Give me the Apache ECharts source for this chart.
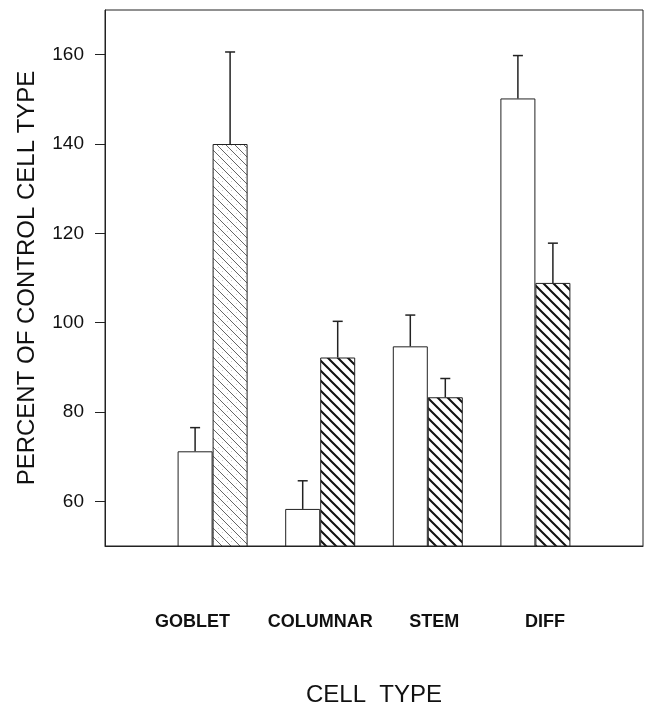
<!DOCTYPE html>
<html>
<head>
<meta charset="utf-8">
<title>Percent of control cell type</title>
<script src="https://cdn.jsdelivr.net/npm/echarts@6/dist/echarts.min.js"></script>
<style>
  html, body { margin: 0; padding: 0; background: #fff; }
  #chart { width: 646px; height: 708px; }
</style>
</head>
<body>
<div id="chart"></div>
<script>
// categories (empty slots at both ends give the wide margins of the original)
const categories = ['', 'GOBLET', 'COLUMNAR', 'STEM', 'DIFF', ''];
// open (control-like) bars and their upper error
const openValues = [null, 71.2, 58.3, 94.7, 150.2, null];
const openErrors = [null, 5.3, 6.3, 7.0, 9.6, null];
// hatched bars and their upper error
const hatchValues = [null, 140, 92.2, 83.3, 108.9, null];
const hatchErrors = [null, 20.6, 8.1, 4.2, 8.9, null];
const yTicks = [60, 80, 100, 120, 140, 160];

// diagonal "\" hatch tile
function hatch(p, lineColor, lineWidth, speckle) {
  const c = document.createElement('canvas');
  c.width = p; c.height = p;
  const ctx = c.getContext('2d');
  ctx.fillStyle = '#fff';
  ctx.fillRect(0, 0, p, p);
  ctx.strokeStyle = lineColor;
  ctx.lineWidth = lineWidth;
  ctx.beginPath();
  [-p, 0, p].forEach(o => { ctx.moveTo(o - 1, -1); ctx.lineTo(o + p + 1, p + 1); });
  ctx.stroke();
  if (speckle) {
    ctx.fillStyle = '#cfcfcf';
    ctx.fillRect(6, 1, 1, 1);
    ctx.fillRect(2, 6, 1, 1);
  }
  return c;
}
const boldHatch = { image: hatch(10, '#111', 2, false), repeat: 'repeat' };
const fineHatch = { image: hatch(9, '#666', 1, true), repeat: 'repeat' };

const barW = 35;
// nudges to match where the original printed each category name
const labelPad = [[0, 0, 0, 0], [0, 40, 0, 0], [0, 0, 0, 0], [0, 0, 0, 13], [0, 0, 0, 19], [0, 0, 0, 0]];

function errorSeries(values, errors, side) {
  const data = [];
  values.forEach((v, i) => { if (v != null) data.push([i, v, v + errors[i]]); });
  return {
    type: 'custom',
    data: data,
    z: 5,
    silent: true,
    renderItem: function (params, api) {
      const base = api.coord([api.value(0), api.value(1)]);
      const top = api.coord([api.value(0), api.value(2)]);
      const x = base[0] + side * barW / 2;
      const st = { stroke: '#222', lineWidth: 1.5 };
      return {
        type: 'group',
        children: [
          { type: 'line', shape: { x1: x, y1: base[1], x2: x, y2: top[1] }, style: st },
          { type: 'line', shape: { x1: x - 5, y1: top[1], x2: x + 5, y2: top[1] }, style: st }
        ]
      };
    }
  };
}

const chart = echarts.init(document.getElementById('chart'));
chart.setOption({
  animation: false,
  backgroundColor: '#fff',
  textStyle: { fontFamily: 'Liberation Sans', color: '#111' },
  grid: {
    left: 105, right: 3, top: 10, bottom: 162,
    outerBoundsMode: 'none',
    show: true, borderColor: '#222', borderWidth: 1
  },
  xAxis: {
    type: 'category',
    boundaryGap: false,
    data: categories.map((c, i) => ({ value: c, textStyle: { padding: labelPad[i] } })),
    axisLine: { lineStyle: { color: '#222', width: 1 } },
    axisTick: { show: false },
    axisLabel: { interval: 0, margin: 67, fontSize: 18, fontWeight: 'bold', color: '#111' },
    splitLine: { show: false },
    name: 'CELL  TYPE',
    nameLocation: 'middle',
    nameGap: 137,
    nameTextStyle: { fontSize: 24, color: '#111' }
  },
  yAxis: {
    type: 'value',
    min: 50,
    max: 170,
    axisLine: { show: true, lineStyle: { color: '#222', width: 1 } },
    axisTick: { show: true, length: 10, customValues: yTicks, lineStyle: { color: '#222' } },
    axisLabel: { customValues: yTicks, margin: 21, fontSize: 19, color: '#111' },
    splitLine: { show: false },
    name: 'PERCENT OF CONTROL CELL TYPE',
    nameLocation: 'middle',
    nameGap: 66,
    nameTextStyle: { fontSize: 24, color: '#111' }
  },
  series: [
    {
      type: 'bar',
      data: openValues,
      barWidth: barW,
      barGap: '0%',
      itemStyle: { color: '#fff', borderColor: '#222', borderWidth: 1 }
    },
    {
      type: 'bar',
      data: hatchValues.map((v, i) => i === 1 ? { value: v, itemStyle: { color: fineHatch } } : v),
      barWidth: barW,
      barGap: '0%',
      itemStyle: { color: boldHatch, borderColor: '#222', borderWidth: 1 }
    },
    errorSeries(openValues, openErrors, -1),
    errorSeries(hatchValues, hatchErrors, 1)
  ]
});
</script>
</body>
</html>
